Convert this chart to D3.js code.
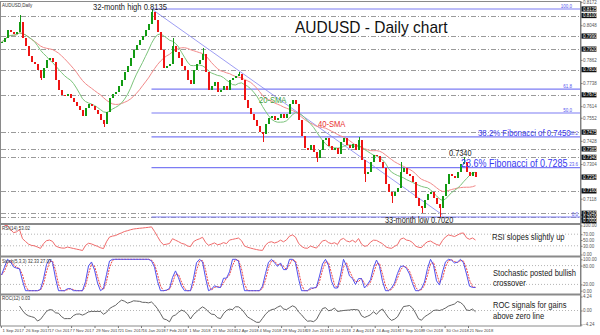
<!DOCTYPE html>
<html>
<head>
<meta charset="utf-8">
<script src="https://cdn.jsdelivr.net/npm/d3@7"></script>
<style>
  html, body { margin: 0; padding: 0; background: #fff; }
  svg { display: block; font-family: "Liberation Sans", Arial, sans-serif; }
</style>
</head>
<body>
<svg id="chart" width="600" height="335"></svg>
<script>
// AUDUSD closes, one bar ~ 2 trading days, 1 Sep 2017 -> late Nov 2018
const closes = [
  0.7958, 0.7979, 0.8022, 0.8012, 0.8001, 0.8012, 0.8065, 0.7979, 0.7936, 0.7883,
  0.7851, 0.7840, 0.7808, 0.7765, 0.7819, 0.7862, 0.7872, 0.7851, 0.7754, 0.7701,
  0.7674, 0.7668, 0.7679, 0.7658, 0.7636, 0.7615, 0.7593, 0.7561, 0.7604, 0.7626,
  0.7615, 0.7593, 0.7572, 0.7540, 0.7518, 0.7583, 0.7658, 0.7679, 0.7690, 0.7722,
  0.7754, 0.7797, 0.7829, 0.7872, 0.7915, 0.7942, 0.7969, 0.7990, 0.8022, 0.8054,
  0.8119, 0.8076, 0.8012, 0.7915, 0.7819, 0.7829, 0.7840, 0.7936, 0.7904, 0.7872,
  0.7829, 0.7808, 0.7754, 0.7733, 0.7808, 0.7840, 0.7862, 0.7894, 0.7797, 0.7701,
  0.7722, 0.7744, 0.7690, 0.7701, 0.7722, 0.7701, 0.7754, 0.7765, 0.7776, 0.7786,
  0.7754, 0.7647, 0.7604, 0.7572, 0.7540, 0.7508, 0.7476, 0.7465, 0.7518, 0.7551,
  0.7561, 0.7540, 0.7551, 0.7572, 0.7551, 0.7572, 0.7626, 0.7647, 0.7626, 0.7540,
  0.7454, 0.7390, 0.7379, 0.7406, 0.7368, 0.7336, 0.7379, 0.7433, 0.7443, 0.7400,
  0.7379, 0.7390, 0.7358, 0.7422, 0.7443, 0.7406, 0.7390, 0.7411, 0.7379, 0.7433,
  0.7325, 0.7250, 0.7261, 0.7315, 0.7352, 0.7347, 0.7315, 0.7283, 0.7197, 0.7154,
  0.7132, 0.7154, 0.7175, 0.7261, 0.7283, 0.7250, 0.7240, 0.7208, 0.7122, 0.7079,
  0.7068, 0.7111, 0.7143, 0.7154, 0.7122, 0.7090, 0.7068, 0.7132, 0.7197, 0.7250,
  0.7240, 0.7229, 0.7261, 0.7304, 0.7315, 0.7261, 0.7240, 0.7261, 0.7234
];
// notable wick extremes [bar, price]
const wickHighs = [[6, 0.8103], [50, 0.8135], [57, 0.7979], [67, 0.7925], [79, 0.7797], [119, 0.7449], [133, 0.7315], [154, 0.7340]];
const wickLows = [[13, 0.7754], [34, 0.7502], [87, 0.7422], [105, 0.7315], [121, 0.7208], [130, 0.7095], [140, 0.7041], [146, 0.7020]];

const fibNames = ["100.0", "61.8", "50.0", "38.2", "23.6", "0.0"];
const fibPrices = [0.8135, 0.7706, 0.75775, 0.7450, 0.7285, 0.7020];
const levels = [0.8100, 0.7990, 0.7920, 0.7810, 0.7675, 0.7475, 0.7385, 0.7340, 0.7160, 0.7040, 0.7020];
const boxPrices = [0.8135, 0.8100, 0.7990, 0.7920, 0.7810, 0.7675, 0.7475, 0.7385, 0.7340, 0.7234, 0.7160, 0.7040, 0.7020, 0.7000];
const priceTicks = [0.8172, 0.8110, 0.8048, 0.7986, 0.7924, 0.7862, 0.7800, 0.7738, 0.7676, 0.7614,
  0.7552, 0.7490, 0.7428, 0.7366, 0.7304, 0.7242, 0.7180, 0.7118, 0.7056];
const trendLine = [[50.5, 0.8130], [147, 0.7031]];

const dateLabels = ["1 Sep 2017", "26 Sep 2017", "17 Oct 2017", "7 Nov 2017", "29 Nov 2017", "21 Dec 2017",
  "16 Jan 2018", "7 Feb 2018", "1 Mar 2018", "21 Mar 2018", "12 Apr 2018", "4 May 2018", "28 May 2018",
  "19 Jun 2018", "11 Jul 2018", "2 Aug 2018", "24 Aug 2018", "17 Sep 2018", "9 Oct 2018", "30 Oct 2018", "21 Nov 2018"];
const dateBars = [-0.2, 7.6, 15.4, 23.2, 31.0, 38.8, 46.5, 54.3, 62.1, 69.9, 77.7, 85.5, 93.2,
  101.0, 108.8, 116.6, 124.4, 132.2, 139.9, 147.7, 155.5];

const rsiTicks = [100, 70, 50, 30, 0];
const stochTicks = [100, 80, 20, 0];
const rocTicks = [4.24, 0, -4.24];

const svg = d3.select("#chart");
const plotRight = 580.5;

const x = d3.scaleLinear().domain([0, closes.length - 1]).range([1.5, 475.5]);
const y = d3.scaleLinear().domain([0.7020, 0.8135]).range([217, 9]);
const yRsi = d3.scaleLinear().domain([0, 100]).range([254.5, 225.5]);
const yStoch = d3.scaleLinear().domain([0, 100]).range([290.7, 259.3]);
const yRoc = d3.scaleLinear().domain([-4.24, 4.24]).range([324.5, 296.5]);

// bars
const hiMap = new Map(wickHighs), loMap = new Map(wickLows);
const bars = closes.map((c, i) => {
  const o = i ? closes[i - 1] : c;
  return {
    i, o, c,
    h: Math.max(o, c, hiMap.has(i) ? hiMap.get(i) : -Infinity),
    l: Math.min(o, c, loMap.has(i) ? loMap.get(i) : Infinity)
  };
});

// indicators (periods in 2-day bars)
function sma(arr, n) {
  return arr.map((_, i) => d3.mean(arr.slice(Math.max(0, i - n + 1), i + 1)));
}
const sma20 = sma(closes, 10);
const sma40 = sma(closes, 20);

const rsi = [];
let ag = 0, al = 0;
for (let i = 1; i < closes.length; i++) {
  const d = closes[i] - closes[i - 1];
  const g = Math.max(d, 0), l = Math.max(-d, 0);
  if (i <= 7) { ag = (ag * (i - 1) + g) / i; al = (al * (i - 1) + l) / i; }
  else { ag = (ag * 6 + g) / 7; al = (al * 6 + l) / 7; }
  rsi.push([i, al === 0 ? 100 : 100 - 100 / (1 + ag / al)]);
}

const rawK = bars.map((b, i) => {
  const w = bars.slice(Math.max(0, i - 3), i + 1);
  const hh = d3.max(w, d => d.h), ll = d3.min(w, d => d.l);
  return hh === ll ? 50 : (b.c - ll) / (hh - ll) * 100;
});
const stochK = sma(rawK, 2);
const stochD = sma(stochK, 2);

const roc = [];
for (let i = 6; i < closes.length; i++) roc.push([i, (closes[i] / closes[i - 6] - 1) * 100]);

// frame
svg.append("rect").attr("x", 0.5).attr("y", 1.5).attr("width", plotRight).attr("height", 324.5)
  .attr("fill", "none").attr("stroke", "#8a8a8a");
[224, 256.5, 294.5].forEach(v => {
  svg.append("line").attr("x1", 0).attr("x2", plotRight).attr("y1", v).attr("y2", v)
    .attr("stroke", "#8a8a8a").attr("stroke-width", 2);
});

// horizontal levels
svg.append("g").selectAll("line").data(levels).enter().append("line")
  .attr("x1", 1).attr("x2", plotRight)
  .attr("y1", d => Math.round(y(d)) + 0.5).attr("y2", d => Math.round(y(d)) + 0.5)
  .attr("stroke", "#9a9a9a").attr("stroke-dasharray", "5,2,1,2");

// fibonacci
const fib = svg.append("g");
fib.selectAll("line").data(fibPrices).enter().append("line")
  .attr("x1", x(50)).attr("x2", plotRight)
  .attr("y1", d => y(d)).attr("y2", d => y(d))
  .attr("stroke", "#7c7cf4").attr("stroke-width", 1.2);
fib.selectAll("text").data(fibPrices).enter().append("text")
  .attr("x", (d, i) => i < 3 ? 572 : 578).attr("y", d => y(d) - 1.5)
  .attr("text-anchor", "end").attr("font-size", 4.5).attr("fill", "#5555ee")
  .text((d, i) => fibNames[i]);

// trend line
svg.append("line")
  .attr("x1", x(trendLine[0][0])).attr("y1", y(trendLine[0][1]))
  .attr("x2", x(trendLine[1][0])).attr("y2", y(trendLine[1][1]))
  .attr("stroke", "#8484f0").attr("stroke-width", 0.8);

// moving averages
const maLine = d3.line().x((d, i) => x(i)).y(d => y(d));
svg.append("path").datum(sma40).attr("d", maLine).attr("fill", "none")
  .attr("stroke", "#f28a8a").attr("stroke-width", 1);
svg.append("path").datum(sma20).attr("d", maLine).attr("fill", "none")
  .attr("stroke", "#7cc47c").attr("stroke-width", 1);

// candles
const cg = svg.append("g").attr("shape-rendering", "crispEdges");
cg.selectAll("line").data(bars).enter().append("line")
  .attr("x1", d => x(d.i) + 0.5).attr("x2", d => x(d.i) + 0.5)
  .attr("y1", d => y(d.h)).attr("y2", d => y(d.l))
  .attr("stroke", d => d.c >= d.o ? "#129a12" : "#ee1414");
cg.selectAll("rect").data(bars).enter().append("rect")
  .attr("x", d => x(d.i) - 0.5).attr("width", 2)
  .attr("y", d => y(Math.max(d.o, d.c)))
  .attr("height", d => Math.max(1, Math.abs(y(d.o) - y(d.c))))
  .attr("fill", d => d.c >= d.o ? "#129a12" : "#ee1414");

// indicator guide lines
function guides(scale, vals) {
  svg.append("g").selectAll("line").data(vals).enter().append("line")
    .attr("x1", 1).attr("x2", plotRight)
    .attr("y1", d => scale(d)).attr("y2", d => scale(d))
    .attr("stroke", "#b5b5b5").attr("stroke-dasharray", "1,2");
}
guides(yRsi, [70, 30]);
guides(yStoch, [80, 20]);
guides(yRoc, [0]);

svg.append("path").datum(rsi)
  .attr("d", d3.line().x(d => x(d[0])).y(d => yRsi(d[1])))
  .attr("fill", "none").attr("stroke", "#f06a6a").attr("stroke-width", 1);
svg.append("path").datum(stochD)
  .attr("d", d3.line().x((d, i) => x(i)).y(d => yStoch(d)))
  .attr("fill", "none").attr("stroke", "#f04848").attr("stroke-width", 1).attr("stroke-dasharray", "2,1");
svg.append("path").datum(stochK)
  .attr("d", d3.line().x((d, i) => x(i)).y(d => yStoch(d)))
  .attr("fill", "none").attr("stroke", "#5050ee").attr("stroke-width", 1);
svg.append("path").datum(roc)
  .attr("d", d3.line().x(d => x(d[0])).y(d => yRoc(d[1])))
  .attr("fill", "none").attr("stroke", "#505050").attr("stroke-width", 0.9);

// right axes
function styleAxis(g) {
  g.select(".domain").remove();
  g.selectAll(".tick line").attr("stroke", "#777");
  g.selectAll("text").attr("font-size", 4.5).attr("fill", "#555")
    .attr("font-family", "Liberation Sans, Arial, sans-serif").attr("x", 2.5);
}
const shownTicks = priceTicks.filter(t => boxPrices.every(b => Math.abs(y(t) - y(b)) > 4.5));
svg.append("g").attr("transform", `translate(${plotRight},0)`)
  .call(d3.axisRight(y).tickValues(shownTicks).tickSize(2).tickFormat(d3.format(".4f")))
  .call(styleAxis);
svg.append("g").attr("transform", `translate(${plotRight},0)`)
  .call(d3.axisRight(yRsi).tickValues(rsiTicks).tickSize(2).tickFormat(d3.format(".2f")))
  .call(styleAxis);
svg.append("g").attr("transform", `translate(${plotRight},0)`)
  .call(d3.axisRight(yStoch).tickValues(stochTicks).tickSize(2).tickFormat(d3.format(".2f")))
  .call(styleAxis);
svg.append("g").attr("transform", `translate(${plotRight},0)`)
  .call(d3.axisRight(yRoc).tickValues(rocTicks).tickSize(2).tickFormat(d3.format(".2f")))
  .call(styleAxis);

// price boxes
const bx = svg.append("g");
bx.selectAll("rect").data(boxPrices).enter().append("rect")
  .attr("x", plotRight + 1).attr("y", d => y(d) - 2.6).attr("width", 15).attr("height", 5.2)
  .attr("fill", "#111");
bx.selectAll("text").data(boxPrices).enter().append("text")
  .attr("x", plotRight + 2.5).attr("y", d => y(d) + 1.6)
  .attr("font-size", 4.5).attr("fill", "#fff").text(d => d3.format(".4f")(d));

svg.append("line").attr("x1", plotRight).attr("x2", plotRight).attr("y1", 1).attr("y2", 326)
  .attr("stroke", "#808080");

// date axis
const xa = svg.append("g").attr("transform", "translate(0,326)")
  .call(d3.axisBottom(x).tickValues(dateBars).tickSize(2).tickFormat((d, i) => dateLabels[i]));
xa.select(".domain").remove();
xa.selectAll(".tick line").attr("stroke", "#777");
xa.selectAll("text").attr("font-size", 4.2).attr("fill", "#444").attr("text-anchor", "start")
  .attr("x", 1).attr("dy", 0).attr("y", 6);

// small panel captions
function caption(t, px, py) {
  svg.append("text").attr("x", px).attr("y", py).attr("font-size", 4.5).attr("fill", "#333").text(t);
}
caption("AUDUSD,Daily", 2, 6.5);
caption("RSI(14) 53.02", 2, 229.8);
caption("Stoch(5,3,3) 32.33 27.07", 2, 263);
caption("ROC(12) 0.03", 2, 299.6);

// annotations
function note(t, px, py, size, color, sx) {
  svg.append("text").attr("transform", `translate(${px},${py}) scale(${sx},1)`)
    .attr("font-size", size).attr("fill", color).text(t);
}
note("AUDUSD - Daily chart", 295, 33, 16, "#111", 0.97);
note("32-month high 0.8135", 93, 10, 9.5, "#222", 0.8);
note("20-SMA", 259, 103, 9.5, "#3aa03a", 0.8);
note("40-SMA", 318, 127, 9.5, "#e83030", 0.8);
note("38.2% Fibonacci of 0.7450", 478, 136, 9.8, "#3a3af0", 0.8);
note("0.7340", 449, 156, 9, "#222", 0.82);
note("23.6% Fibonacci of 0.7285", 461, 166.5, 10, "#3a3af0", 0.9);
note("33-month low 0.7020", 385, 222.5, 9.5, "#222", 0.77);
note("RSI slopes slightly up", 492, 239.5, 9.5, "#222", 0.8);
note("Stochastic posted bullish", 493, 276, 9, "#222", 0.84);
note("crossover", 493, 285.8, 9, "#222", 0.84);
note("ROC signals for gains", 493, 308.3, 9, "#222", 0.84);
note("above zero line", 493, 319, 9, "#222", 0.84);
</script>
</body>
</html>
